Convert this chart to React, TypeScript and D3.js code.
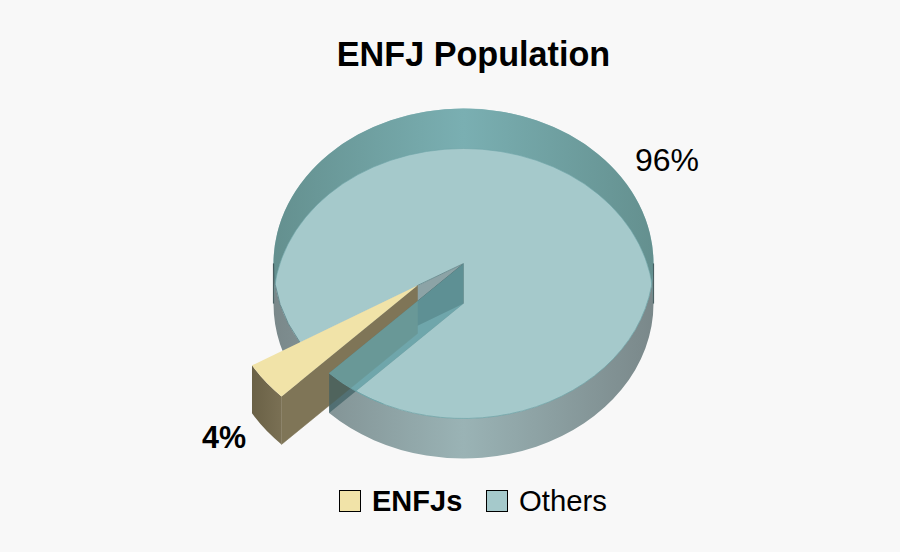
import React, { useEffect, useRef } from "react";
import * as d3 from "d3";

const categories = ["ENFJs", "Others"];
const shares = [4, 96];
const sliceLabels = ["4%", "96%"];
const topColors = ["#F1E3A8", "#A5C9CB"];
const chartTitle = "ENFJ Population";

const width = 900;
const height = 552;

const App: React.FC = () => {
  const svgRef = useRef<SVGSVGElement | null>(null);

  useEffect(() => {
    const cx = 463.5;
    const cy = 263.5;
    const rx = 190;
    const ry = 155;
    const depth = 40;
    const enfjDepth = 48;
    const enfjScale = 1.012; // exploded slice is drawn a touch larger
    const [ex, ey] = [-46, 22];

    const svg = d3.select(svgRef.current);
    svg.selectAll("*").remove();
    svg.attr("viewBox", [0, 0, width, height]);
    svg.append("rect").attr("width", width).attr("height", height).attr("fill", "#F8F8F8");

    const start = (225 * Math.PI) / 180;
    const slices = d3
      .pie<number>()
      .sort(null)
      .startAngle(start)
      .endAngle(start + Math.PI * 2)(shares);
    const [enfj, others] = slices;

    const pt = (a: number, dx = 0, dy = 0, k = 1) =>
      [cx + dx + k * rx * Math.sin(a), cy + dy - k * ry * Math.cos(a)] as [number, number];
    const arcTo = (a0: number, a1: number, dx = 0, dy = 0, k = 1) => {
      const [x, y] = pt(a1, dx, dy, k);
      const large = Math.abs(a1 - a0) > Math.PI ? 1 : 0;
      const sweep = a1 > a0 ? 1 : 0;
      return `A${k * rx},${k * ry} 0 ${large} ${sweep} ${x},${y}`;
    };
    // outer wall between the top rim and the bottom rim
    const wall = (a0: number, a1: number, h: number, dx = 0, dy = 0, k = 1) =>
      `M${pt(a0, dx, dy, k)} ${arcTo(a0, a1, dx, dy, k)} L${pt(a1, dx, dy + h, k)} ${arcTo(a1, a0, dx, dy + h, k)} Z`;
    const cutFace = (a: number, h: number, dx = 0, dy = 0, k = 1) =>
      `M${cx + dx},${cy + dy} L${pt(a, dx, dy, k)} L${pt(a, dx, dy + h, k)} L${cx + dx},${cy + dy + h} Z`;

    const defs = svg.append("defs");
    const gradient = (id: string, x1: number, x2: number, stops: [number, string][]) => {
      const g = defs
        .append("linearGradient")
        .attr("id", id)
        .attr("gradientUnits", "userSpaceOnUse")
        .attr("x1", x1)
        .attr("x2", x2)
        .attr("y1", 0)
        .attr("y2", 0);
      stops.forEach(([o, c]) => g.append("stop").attr("offset", o).attr("stop-color", c));
    };
    gradient("backWall", cx - rx, cx + rx, [
      [0, "#64908F"],
      [0.5, "#7AAFB2"],
      [1, "#64908F"],
    ]);
    gradient("frontWall", cx - rx, cx + rx, [
      [0, "#7A888A"],
      [0.5, "#9AB3B5"],
      [1, "#7A888A"],
    ]);
    gradient(
      "enfjWall",
      pt(enfj.endAngle, ex, 0, enfjScale)[0],
      pt(enfj.startAngle, ex, 0, enfjScale)[0],
      [
        [0, "#6A6146"],
        [1, "#7A7054"],
      ],
    );
    defs
      .append("clipPath")
      .attr("id", "tealFace")
      .append("path")
      .attr("d", cutFace(others.endAngle, depth));
    defs
      .append("clipPath")
      .attr("id", "topEllipse")
      .append("ellipse")
      .attr("cx", cx)
      .attr("cy", cy)
      .attr("rx", rx)
      .attr("ry", ry);

    const pie = svg.append("g");

    // top face of the big slice, with the wedge cut out
    pie
      .append("path")
      .attr(
        "d",
        `M${cx},${cy} L${pt(others.startAngle)} ${arcTo(others.startAngle, others.endAngle)} Z`,
      )
      .attr("fill", topColors[1]);

    pie
      .append("path")
      .attr("d", wall(-Math.PI / 2, Math.PI / 2, depth))
      .attr("fill", "url(#backWall)");
    pie
      .append("path")
      .attr("d", wall(Math.PI / 2, enfj.startAngle, depth))
      .attr("fill", "url(#frontWall)");
    pie
      .append("path")
      .attr("d", wall(others.startAngle, (3 * Math.PI) / 2, depth))
      .attr("fill", "url(#frontWall)");

    // rim lines
    pie
      .append("path")
      .attr("d", `M${pt(Math.PI / 2)} ${arcTo(Math.PI / 2, enfj.startAngle)}`)
      .attr("fill", "none")
      .attr("stroke", "#6FA5A8")
      .attr("stroke-width", 0.8);
    pie
      .append("path")
      .attr("d", `M${pt(others.startAngle)} ${arcTo(others.startAngle, (3 * Math.PI) / 2)}`)
      .attr("fill", "none")
      .attr("stroke", "#557F84")
      .attr("stroke-width", 0.8);
    pie
      .append("path")
      .attr("d", `M${pt(-Math.PI / 2, 0, depth)} ${arcTo(-Math.PI / 2, Math.PI / 2, 0, depth)}`)
      .attr("fill", "none")
      .attr("stroke", "#6FA5A8")
      .attr("stroke-width", 0.6);

    // dark slivers on the far left and right of the rim
    [-Math.PI / 2, Math.PI / 2].forEach((a) => {
      pie
        .append("path")
        .attr("d", `M${pt(a)} L${pt(a, 0, depth)}`)
        .attr("stroke", "#34474A")
        .attr("stroke-width", 1.2)
        .attr("stroke-opacity", 0.75);
    });

    // cut face behind the exploded slice, darker where the other face crosses it
    pie
      .append("path")
      .attr("d", cutFace(others.startAngle, depth))
      .attr("fill", "#8CA3A6");
    pie
      .append("path")
      .attr("d", cutFace(others.startAngle, depth))
      .attr("fill", "#3F4644")
      .attr("clip-path", "url(#tealFace)");
    pie
      .append("path")
      .attr("d", `M${cx},${cy} L${cx + ex},${cy + ey}`)
      .attr("stroke", "#5F8488")
      .attr("stroke-width", 0.8);

    // exploded slice
    pie
      .append("path")
      .attr("d", cutFace(enfj.startAngle, enfjDepth, ex, ey, enfjScale))
      .attr("fill", "#7F7557")
      .attr("stroke", "#7F7557")
      .attr("stroke-width", 0.5);
    pie
      .append("path")
      .attr("d", wall(enfj.startAngle, enfj.endAngle, enfjDepth, ex, ey, enfjScale))
      .attr("fill", "url(#enfjWall)");
    pie
      .append("path")
      .attr(
        "d",
        `M${cx + ex},${cy + ey} L${pt(enfj.startAngle, ex, ey, enfjScale)} ${arcTo(enfj.startAngle, enfj.endAngle, ex, ey, enfjScale)} Z`,
      )
      .attr("fill", topColors[0]);

    // other cut face sits over everything, see-through, lighter inside the top rim
    pie
      .append("path")
      .attr("d", cutFace(others.endAngle, depth))
      .attr("fill", "#395D61")
      .attr("fill-opacity", 0.67);
    pie
      .append("g")
      .attr("clip-path", "url(#topEllipse)")
      .append("path")
      .attr("d", cutFace(others.endAngle, depth))
      .attr("fill", "#82CCD2")
      .attr("fill-opacity", 0.5);
    pie
      .append("path")
      .attr("d", `M${pt(enfj.startAngle)} ${arcTo(enfj.startAngle, (205 * Math.PI) / 180)}`)
      .attr("fill", "none")
      .attr("stroke", "#6FA5A8")
      .attr("stroke-width", 0.8);

    const text = (
      s: string,
      x: number,
      y: number,
      size: number,
      bold = false,
      anchor = "start",
    ) =>
      svg
        .append("text")
        .attr("x", x)
        .attr("y", y)
        .attr("font-family", "'Liberation Sans', Arial, sans-serif")
        .attr("font-size", size)
        .attr("font-weight", bold ? "bold" : "normal")
        .attr("text-anchor", anchor)
        .attr("fill", "#000")
        .text(s);

    text(chartTitle, 473.5, 66, 34.2, true, "middle");
    text(sliceLabels[1], 635, 170.5, 32);
    text(sliceLabels[0], 202, 448, 30.5, true);

    // legend
    const legendX = d3.scaleOrdinal<string, number>().domain(categories).range([339, 486]);
    categories.forEach((c, i) => {
      svg
        .append("rect")
        .attr("x", (legendX(c) as number) + 0.5)
        .attr("y", 490.5)
        .attr("width", 21)
        .attr("height", 21)
        .attr("fill", topColors[i])
        .attr("stroke", "#000")
        .attr("stroke-width", 1);
      text(c, (legendX(c) as number) + 33, 511, i === 0 ? 29 : 29.3, i === 0);
    });
  }, []);

  return <svg ref={svgRef} width={width} height={height} style={{ position: "absolute", left: 0, top: 0 }} />;
};

export default App;
